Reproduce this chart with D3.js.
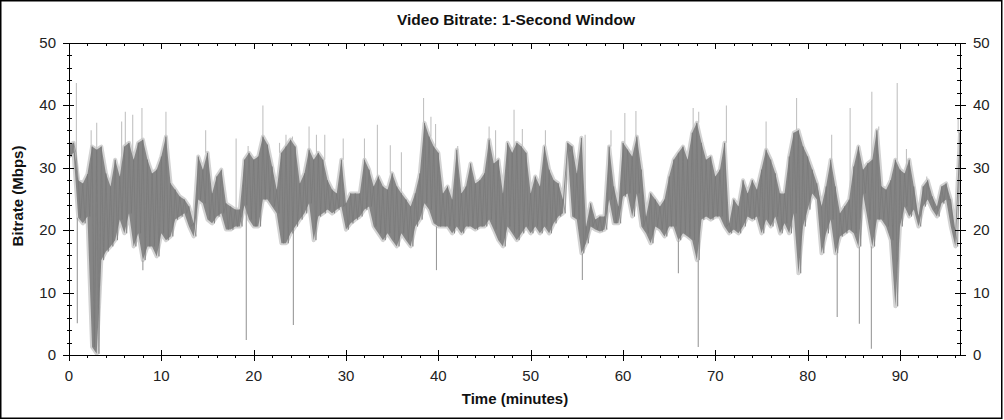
<!DOCTYPE html>
<html><head><meta charset="utf-8">
<script src="https://cdn.jsdelivr.net/npm/d3@7"></script>
<style>body{margin:0;background:#fff}svg{display:block}</style>
</head><body><svg id="c" width="1004" height="420"></svg>
<script>
const title = "Video Bitrate: 1-Second Window";
const xLabel = "Time (minutes)";
const yLabel = "Bitrate (Mbps)";
const xTicks = [0,10,20,30,40,50,60,70,80,90];
const yTicks = [0,10,20,30,40,50];
const stepMin = 0.5; // one sample range per half minute
const bandHi = [33.7,34,28,27.5,29,33.4,32.9,33.4,29.1,27,31.3,28.6,33.4,34,31.3,34,34.5,31.3,29.1,29.7,
31.8,35,27.5,26.5,25.4,24.9,23.8,21.1,31.8,29.7,32.4,25.9,28.6,29.7,24.3,23.8,23.3,23.3,31.3,32.4,
31.3,31.8,35,33.7,30.2,26.5,32.4,33.4,34.5,33.4,27.5,29.1,32.9,31.3,32.4,31.3,28,26.5,25.9,31.3,
24.3,25.9,25.9,25.9,31.3,29.7,27,28.6,27,26.5,29.1,27,25.9,24.9,23.8,25.9,29.1,37.2,35,33.4,
32.4,25.9,27,24.9,32.9,25.9,27,30.7,27.5,28,29.1,34.5,30.7,31.3,25.9,34,32.4,34,33.4,32.4,
25.9,28.6,27,33.4,29.7,28,27.5,24.9,34,33.4,29.1,34.8,20.6,24.3,21.7,22.2,22.2,33.4,27,23.8,
34,32.9,31.8,35,29.7,22.2,25.9,24.9,23.8,24.9,28.6,31.3,32.4,33.4,31.3,35.6,37.2,34,31.3,31.8,
28.6,29.7,34,21.1,24.9,23.8,28,25.9,28,26.5,29.7,32.9,31.3,29.1,25.9,25.9,31.8,35.6,36,33.4,
31.8,29.7,27.5,23.8,27,31.3,27,22.7,23.8,24.9,30.2,33.4,29.7,30.7,31.3,36,27,26.5,28,31.3,
29.7,29.1,31.3,27,22.2,27,28,25.4,23.8,27,27.5,24.9,20,35.6];
const bandLo = [31.8,32.4,22,21.1,22.2,1.3,0.2,15.2,16.6,17.4,18.4,21.7,19.5,22.7,17.4,19.5,15.2,17.4,17.4,15.8,
19.5,18.4,19,21.7,22.2,22.7,20.6,19,24.9,24.3,21.7,21.1,22.2,22.7,20.1,20.1,20.6,20.6,24,21.7,
20.6,20.6,24.9,24.9,23.8,22.7,17.9,17.9,19.5,20.6,21.7,22.7,24.3,18.4,22.2,22.7,23.3,22.7,23.3,23.8,
20.1,21.1,21.7,22.2,23.3,23.8,20.6,19.5,18.4,19.5,18.4,17.4,19.5,18.4,17.4,20.6,21.7,24.3,23.3,21.1,
20.6,20.6,20.6,19.5,20.6,19.5,20.6,20.6,20.1,20.6,20.6,21.7,20.1,18.4,17.4,20.6,19.5,18.4,19.5,20.6,
19.5,20.6,19.5,20.6,19.5,21.1,22.2,22.7,32.6,22.2,21.7,16.3,17.9,20.6,20.1,19.8,20.1,24.9,21.1,21.1,
25.4,25.9,22.2,25.9,20.6,19.5,17.9,20.6,20.1,19,20.6,20.6,18.4,19.5,19,18.4,15.2,21.7,22.2,21.7,
22.2,22.2,20.6,19.5,20.1,19.5,20.6,22.2,21.7,22.2,19.5,21.7,20.6,22.2,19.5,21.1,19.5,22.7,13.1,20.6,
23.3,25.9,24.9,16.3,19.5,21.7,16.3,19,19.5,20.1,19.5,17.4,25.9,21.7,17.4,21.7,21.7,20.6,18.4,7.8,
20.6,23.8,22.2,23.3,20.6,23.8,24.9,23.3,22.2,24.3,24.9,20.6,17.4,31.8];
// isolated one-second peaks and dips
const spikeT = [0.8,0.9,2.4,3.0,5.7,6.1,6.9,7.9,8.0,10.5,14.8,18.1,19.2,19.4,21.0,22.8,23.5,24.2,24.3,26.0,
26.8,27.7,29.7,32.0,33.4,34.8,36.0,38.4,39.2,39.7,39.8,42.1,45.5,46.2,48.2,49.1,51.6,55.6,55.9,58.7,
60.2,61.4,66.0,67.6,68.2,68.15,71.2,75.5,78.8,82.6,83.2,84.6,85.6,86.9,86.95,87.7,89.7,90.7,92.9,96.3];
const spikeV = [43.6,5.1,36,37.2,37.4,39,38.5,39.6,13.6,39,36,34.7,2.4,33.5,40,34,35.3,35,4.8,36.6,
35.3,35.3,34.7,34.7,36.9,33.6,32.5,41.2,38.2,37,13.6,33.5,36.6,36,39.3,36.2,36,12,35.3,36,
38.8,39.1,13.1,39.6,39,1.3,40,37.4,41.2,35.3,6.1,39.6,5,1,42.2,36.6,43.6,33,28.6,38];

const W = 1004, H = 420;
const m = {l: 69, r: 960, t: 43, b: 355};
const svg = d3.select("#c");
const x = d3.scaleLinear().domain([0, 96.5]).range([m.l, m.r]);
const y = d3.scaleLinear().domain([0, 50]).range([m.b, m.t]);

svg.append("rect").attr("x",0.75).attr("y",0.75).attr("width",W-3).attr("height",H-2.5)
  .attr("fill","#fff").attr("stroke","#000").attr("stroke-width",1.5);

const band = bandHi.map((h,i)=>({t:i*stepMin, hi:h, lo:bandLo[i]}));
svg.append("clipPath").attr("id","clip").append("rect")
  .attr("x",m.l).attr("y",m.t).attr("width",m.r-m.l).attr("height",m.b-m.t);
const g = svg.append("g").attr("clip-path","url(#clip)");
const area = d3.area().x(d=>x(d.t)).y0(d=>y(d.lo)).y1(d=>y(d.hi));
g.append("path").datum(band).attr("d",area).attr("fill","#cfcfcf")
  .attr("stroke","#d3d3d3").attr("stroke-width",4).attr("stroke-linejoin","round");
const spikes = spikeT.map((t,i)=>{
  const k = Math.min(band.length-1, Math.round(t/stepMin));
  const v = spikeV[i];
  const up = v > (band[k].hi + band[k].lo)/2;
  return {t, v, base: up ? band[k].hi : band[k].lo, up};
});
g.selectAll("line.sp").data(spikes).join("line").attr("class","sp")
  .attr("x1",d=>x(d.t)).attr("x2",d=>x(d.t)).attr("y1",d=>y(d.base)).attr("y2",d=>y(d.v))
  .attr("stroke",d=>d.up?"#c2c2c2":"#9a9a9a").attr("stroke-width",1.1);
g.append("path").datum(band).attr("d",area).attr("fill","#858585");
// streak texture inside the dark band
const zig = [];
band.forEach(d=>{ zig.push([d.t, d.hi]); zig.push([d.t + stepMin/2, d.lo]); });
const line = d3.line().x(p=>x(p[0])).y(p=>y(p[1]));
g.append("path").datum(zig).attr("d",line).attr("fill","none")
  .attr("stroke","#777").attr("stroke-width",0.9).attr("stroke-opacity",0.7);

// axes
const ax = svg.append("g").attr("stroke","#000").attr("stroke-width",1).attr("fill","none");
ax.append("rect").attr("x",m.l+0.5).attr("y",m.t+0.5).attr("width",m.r-m.l).attr("height",m.b-m.t);
const xMinor = d3.range(0, 97, 2).filter(v=>v%10!==0);
const yMinor = d3.range(0, 51, 2).filter(v=>v%10!==0);
function seg(x1,y1,x2,y2){ax.append("line").attr("x1",x1).attr("y1",y1).attr("x2",x2).attr("y2",y2);}
xTicks.forEach(v=>{const px=Math.round(x(v))+0.5; seg(px,m.b-5,px,m.b+6); seg(px,m.t,px,m.t+6);});
xMinor.forEach(v=>{const px=Math.round(x(v))+0.5; seg(px,m.b,px,m.b+3); seg(px,m.t,px,m.t+3);});
yTicks.forEach(v=>{const py=Math.round(y(v))+0.5; seg(m.l-6,py,m.l+5,py); seg(m.r-5,py,m.r+6,py);});
yMinor.forEach(v=>{const py=Math.round(y(v))+0.5; seg(m.l-2,py,m.l+3,py); seg(m.r-3,py,m.r+2,py);});

const font = "'Liberation Sans', Arial, sans-serif";
const tl = svg.append("g").attr("font-family",font).attr("font-size",15).attr("fill","#222");
xTicks.forEach(v=>tl.append("text").attr("x",x(v)).attr("y",381).attr("text-anchor","middle").text(v));
yTicks.forEach(v=>{
  tl.append("text").attr("x",56).attr("y",y(v)+5).attr("text-anchor","end").text(v);
  tl.append("text").attr("x",973).attr("y",y(v)+5).attr("text-anchor","start").text(v);
});
svg.append("text").attr("x",516).attr("y",25).attr("text-anchor","middle")
  .attr("font-family",font).attr("font-weight","bold").attr("font-size",15.5).attr("fill","#111").text(title);
svg.append("text").attr("x",515).attr("y",404).attr("text-anchor","middle")
  .attr("font-family",font).attr("font-weight","bold").attr("font-size",15).attr("fill","#111").text(xLabel);
svg.append("text").attr("transform","translate(23,196) rotate(-90)").attr("text-anchor","middle")
  .attr("font-family",font).attr("font-weight","bold").attr("font-size",15).attr("fill","#111").text(yLabel);
</script></body></html>
